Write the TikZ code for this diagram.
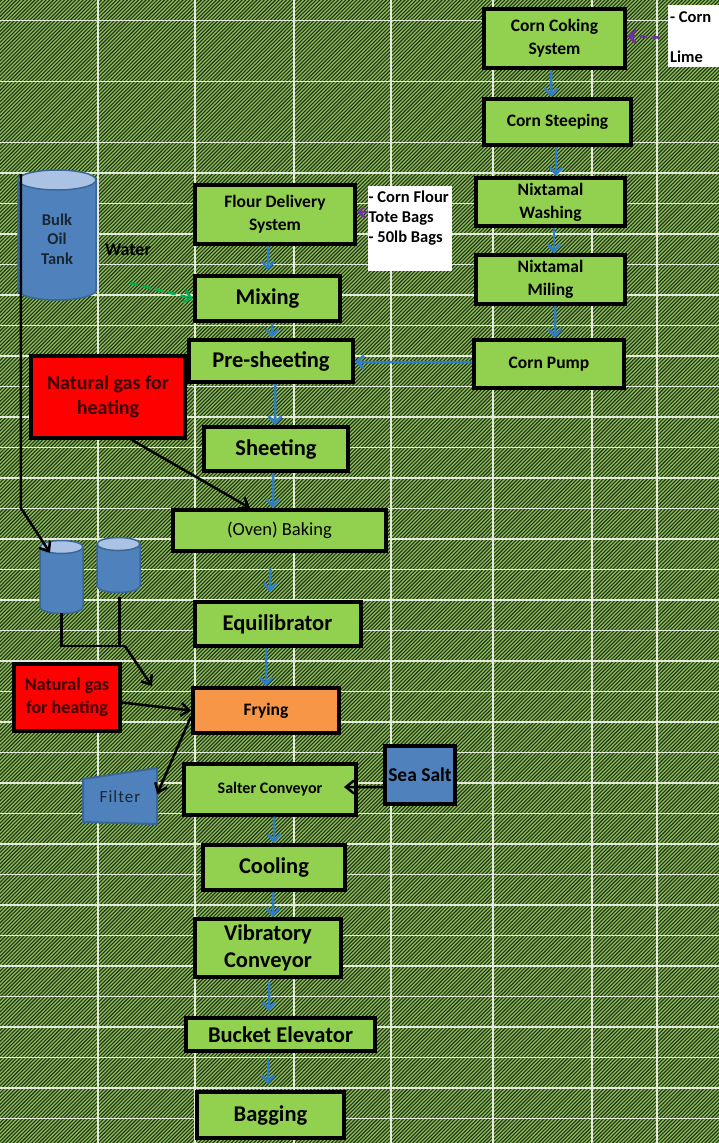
\documentclass[tikz,border=0pt]{standalone}
\usepackage{fontspec}
\setmainfont{Carlito}
\usetikzlibrary{arrows.meta}
\definecolor{bgg}{RGB}{138,190,88}
\definecolor{hatchc}{RGB}{36,50,24}
\definecolor{boxg}{HTML}{92D050}
\definecolor{gridw}{RGB}{228,234,220}
\definecolor{arrb}{RGB}{46,125,200}
\definecolor{tankb}{HTML}{4F81BD}
\definecolor{tankedge}{RGB}{59,103,150}
\definecolor{tanktop}{RGB}{170,195,228}
\definecolor{oran}{HTML}{F79646}
\definecolor{purp}{HTML}{7030A0}
\definecolor{wgreen}{HTML}{00B050}
\definecolor{gastext}{RGB}{60,0,0}
\definecolor{darktxt}{RGB}{27,38,51}
\newcommand\fsA{\fontsize{17.5bp}{23bp}\selectfont}
\newcommand\fsB{\fontsize{22.5bp}{26.5bp}\selectfont}
\newcommand\drawtank[5]{%
  \fill[tankb,draw=tankedge,line width=1.5bp] (#1-#4,#2) -- (#1-#4,#3) arc[start angle=180,end angle=0,x radius=#4,y radius=#5] -- (#1+#4,#2) -- cycle;
  \fill[tanktop,draw=tankedge,line width=1.5bp] (#1,#2) ellipse[x radius=#4,y radius=#5];
}
\tikzset{
 procbox/.style={draw=black, line width=4bp, fill=boxg, rectangle, inner sep=0pt, align=center, text=black, font=\bfseries\fsA},
 bigtxt/.style={font=\bfseries\fsB},
 gasbox/.style={procbox, fill=red, text=gastext},
 flowarr/.style={draw=arrb, line width=2.5bp, -{Straight Barb[length=7bp,width=13bp]}},
 feedarr/.style={draw=black, line width=2.5bp, -{Straight Barb[length=8bp,width=13bp]}},
 pipeline/.style={draw=black, line width=2.5bp},
 gridln/.style={draw=gridw, line width=1.3bp},
 hatchln/.style={draw=hatchc, line width=1.1bp},
 whitebx/.style={fill=white, draw=none, inner sep=0pt},
 notetxt/.style={inner sep=0pt, align=left, text=black, font=\bfseries\fontsize{16.5bp}{20bp}\selectfont},
 tanklbl/.style={inner sep=0pt, align=center, text=darktxt, font=\bfseries\fontsize{16.5bp}{19.5bp}\selectfont},
}
\begin{document}
\begin{tikzpicture}[x=1bp,y=-1bp]
\useasboundingbox (0,0) rectangle (719,1143);
% background
\fill[bgg] (0,0) rectangle (719,1143);
\begin{scope}
\clip (0,0) rectangle (719,1143);
\foreach \i in {0,...,505} \draw[hatchln] (3.7*\i,-2) -- (3.7*\i-1147,1145);
\end{scope}
\foreach \x in {98,195,294,391,493,592,657} \draw[gridln] (\x,0) -- (\x,1143);
\foreach \y in {20.5,81.5,142.5} \draw[gridln] (0,\y) -- (719,\y);
\foreach \k in {0,...,31} \draw[gridln] (0,173+30.5*\k) -- (719,173+30.5*\k);

% right column
\node[procbox, minimum width=141.5bp, minimum height=59.5bp] (coking) at (554.5,38.5) {Corn Coking\\System};
\node[procbox, minimum width=147bp, minimum height=46bp] (steeping) at (557.5,122) {Corn Steeping};
\node[procbox, minimum width=149bp, minimum height=48bp] (washing) at (550.5,202) {Nixtamal\\Washing};
\node[procbox, minimum width=149bp, minimum height=49bp] (miling) at (550.5,279.5) {Nixtamal\\Miling};
\node[procbox, minimum width=150bp, minimum height=48bp] (pump) at (549,364) {Corn Pump};

% white note boxes
\node[whitebx, minimum width=56bp, minimum height=62bp] (cornlime) at (696,36) {};
\node[notetxt, anchor=north west] (cornlimetxt) at (670,11.5) {- Corn\\[20bp]Lime};
\node[whitebx, minimum width=84bp, minimum height=85bp] (flourbags) at (410,228.5) {};
\node[notetxt, anchor=north west] (flourbagstxt) at (368.5,191) {- Corn Flour\\Tote Bags\\- 50lb Bags};

% main column
\node[procbox, minimum width=160bp, minimum height=59bp] (flour) at (275,214.5) {Flour Delivery\\System};
\node[procbox, bigtxt, minimum width=145bp, minimum height=45bp] (mixing) at (267.5,298.5) {Mixing};
\node[procbox, bigtxt, minimum width=164bp, minimum height=42bp] (presheet) at (271,361) {Pre-sheeting};
\node[procbox, bigtxt, minimum width=144bp, minimum height=44bp] (sheeting) at (276,449) {Sheeting};
\node[procbox, font=\fontsize{18.5bp}{22bp}\selectfont, minimum width=213bp, minimum height=41bp] (baking) at (279.5,530.5) {(Oven) Baking};
\node[procbox, bigtxt, minimum width=166bp, minimum height=44bp] (equil) at (277.5,624) {Equilibrator};
\node[procbox, fill=oran, minimum width=146bp, minimum height=45bp] (frying) at (266,710.5) {Frying};
\node[procbox, font=\bfseries\fontsize{16bp}{20bp}\selectfont, minimum width=172bp, minimum height=51bp] (salter) at (270,789) {Salter Conveyor};
\node[procbox, fill=tankb, font=\bfseries\fontsize{19.5bp}{23bp}\selectfont, minimum width=70bp, minimum height=58bp] (seasalt) at (420,775) {Sea Salt};
\node[procbox, bigtxt, minimum width=142bp, minimum height=45bp] (cooling) at (274,867.5) {Cooling};
\node[procbox, bigtxt, minimum width=146bp, minimum height=58bp] (vibratory) at (268,948) {Vibratory\\Conveyor};
\node[procbox, bigtxt, minimum width=189bp, minimum height=33bp] (bucket) at (280.5,1034.5) {Bucket Elevator};
\node[procbox, bigtxt, minimum width=147bp, minimum height=46bp] (bagging) at (270.5,1115) {Bagging};

% gas boxes
\node[gasbox, font=\bfseries\fontsize{20bp}{25bp}\selectfont, minimum width=154bp, minimum height=82bp] (natgas1) at (108,397) {Natural gas for\\heating};
\node[gasbox, font=\bfseries\fontsize{18bp}{23bp}\selectfont, minimum width=106bp, minimum height=67bp] (natgas2) at (67,697.5) {Natural gas\\for heating};

% tanks
\drawtank{57}{180}{290}{39}{10}
\node[tanklbl, minimum width=78bp, minimum height=130bp] (bulk) at (57,239) {Bulk\\Oil\\Tank};
\drawtank{61.5}{547}{607}{21.5}{6.5}
\node[tanklbl, minimum width=43bp, minimum height=72bp] (tankA) at (61.5,577) {};
\drawtank{118.5}{544}{586}{21.5}{6.5}
\node[tanklbl, minimum width=43bp, minimum height=55bp] (tankB) at (118.5,565) {};

% filter
\fill[tankb, draw=tankedge, line width=2bp] (83,779) -- (157,768) -- (157,824) -- (83,822) -- cycle;
\node[inner sep=0pt, minimum width=74bp, minimum height=56bp, text=darktxt, font=\fontsize{17bp}{20bp}\selectfont\addfontfeature{LetterSpace=6}] (filter) at (120,797) {Filter};

% water
\node[inner sep=0pt, text=black, font=\bfseries\fontsize{18bp}{22bp}\selectfont] (water) at (128,250) {Water};
\coordinate (wtail) at (130,283);
\draw[wgreen, line width=2.5bp, dash pattern=on 8bp off 5bp, -{Straight Barb[length=7bp,width=12bp]}] (wtail) -- (mixing.west);

% purple arrows
\draw[purp, line width=2.5bp, dash pattern=on 7bp off 5bp, shorten <=9bp, -{Straight Barb[length=7bp,width=13bp]}] ([yshift=-2bp]cornlime.west) -- ([yshift=2.5bp]coking.east);
\draw[purp, line width=2bp, -{Straight Barb[length=6bp,width=10bp]}] ([yshift=16.5bp]flourbags.west) -- ([yshift=2.5bp]flour.east);

% blue flow arrows
\draw[flowarr] ([xshift=-3.5bp]coking.south) -- ([xshift=-6.5bp]steeping.north);
\draw[flowarr] ([xshift=-1.5bp]steeping.south) -- ([xshift=5.5bp]washing.north);
\draw[flowarr] ([xshift=3.5bp]washing.south) -- ([xshift=3.5bp]miling.north);
\draw[flowarr] ([xshift=4.5bp]miling.south) -- ([xshift=6bp]pump.north);
\draw[flowarr] ([yshift=2bp]pump.west) -- ([yshift=-1bp]presheet.east);
\draw[flowarr, shorten >=4bp] ([xshift=-7bp]flour.south) -- ([xshift=0.5bp]mixing.north);
\draw[flowarr] ([xshift=4.5bp]mixing.south) -- ([xshift=1bp]presheet.north);
\draw[flowarr] ([xshift=4bp]presheet.south) -- ([xshift=-1bp]sheeting.north);
\draw[flowarr] ([xshift=-3bp]sheeting.south) -- ([xshift=-6.5bp]baking.north);
\draw[flowarr, shorten <=15bp, shorten >=8bp] ([xshift=-9.5bp]baking.south) -- ([xshift=-7.5bp]equil.north);
\draw[flowarr] ([xshift=-11.5bp]equil.south) -- (frying.north);
\draw[flowarr] ([xshift=4bp]salter.south) -- (cooling.north);
\draw[flowarr] ([xshift=-1bp]cooling.south) -- ([xshift=5bp]vibratory.north);
\draw[flowarr, shorten <=3bp, shorten >=5bp] ([xshift=1bp]vibratory.south) -- ([xshift=-11.5bp]bucket.north);
\draw[flowarr, shorten <=6bp, shorten >=6bp] ([xshift=-12.5bp]bucket.south) -- ([xshift=-2.5bp]bagging.north);

% black feeds
\draw[feedarr] ([xshift=24bp]natgas1.south) -- ([xshift=-29.5bp]baking.north);
\draw[feedarr] ([xshift=3bp]bulk.north west) -- ++(0,334) -- ([xshift=-11.5bp,yshift=-12bp]tankA.north);
\draw[pipeline] (tankA.south) -- ++(0,33) -- ++(63.5,0) coordinate (junc);
\draw[pipeline] ([xshift=1bp,yshift=-4bp]tankB.south) -- ++(0,50);
\draw[feedarr] (junc) -- ([xshift=-39bp]frying.north west);
\draw[feedarr] ([yshift=-5bp]natgas2.east) -- (frying.west);
\draw[feedarr] ([yshift=-6bp]frying.west) -- ([yshift=3bp]filter.east);
\draw[feedarr] ([yshift=-12bp]seasalt.west) -- ([xshift=-14bp,yshift=2bp]salter.east);
\end{tikzpicture}
\end{document}
